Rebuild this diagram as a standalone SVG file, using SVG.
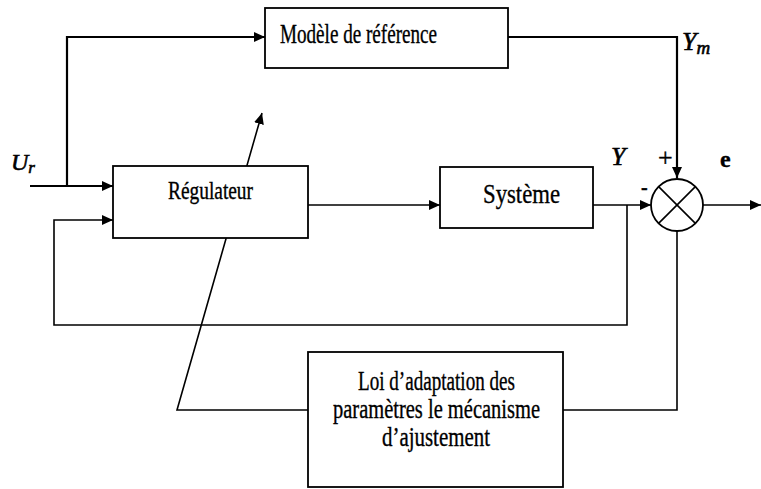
<svg xmlns="http://www.w3.org/2000/svg" width="761" height="489" viewBox="0 0 761 489">
<style>
.ln{fill:none;stroke:#000;stroke-width:1.6}
.th{fill:none;stroke:#000;stroke-width:2.2}
.box{fill:#fff;stroke:#000;stroke-width:1.8}
.t{font-family:"Liberation Serif",serif;fill:#000;stroke:#000;stroke-width:0.35}
.it{font-family:"Liberation Serif",serif;font-style:italic;fill:#000;stroke:#000;stroke-width:0.6}
</style>
<defs>
<marker id="ah" markerUnits="userSpaceOnUse" markerWidth="12" markerHeight="10" refX="11" refY="5" orient="auto">
<path d="M0,0 L11,5 L0,10 z" fill="#000"/>
</marker>
</defs>
<rect width="761" height="489" fill="#fff"/>
<g id="connectors">
<polyline class="th" points="67,186 67,37 265,37" marker-end="url(#ah)"/>
<line class="th" x1="30" y1="186" x2="113" y2="186" marker-end="url(#ah)"/>
<polyline class="ln" points="627,205 627,325 54,325 54,220 113,220" marker-end="url(#ah)"/>
<line class="ln" x1="308" y1="205" x2="440" y2="205" marker-end="url(#ah)"/>
<line class="ln" x1="593" y1="205" x2="651" y2="205" marker-end="url(#ah)"/>
<polyline class="th" points="508,37 677,37 677,178" marker-end="url(#ah)"/>
<line class="ln" x1="703" y1="205" x2="761" y2="205" marker-end="url(#ah)"/>
<polyline class="ln" points="677,231 677,410 563,410"/>
<polyline class="ln" points="308,410 177,410 262,113" marker-end="url(#ah)"/>
</g>
<g id="modele">
<rect class="box" x="265" y="8" width="243" height="60"/>
<text class="t" font-size="27" x="280" y="43" textLength="157" lengthAdjust="spacingAndGlyphs">Modèle de référence</text>
</g>
<g id="regulateur">
<rect class="box" x="113" y="166" width="195" height="72"/>
<text class="t" font-size="25" x="168" y="199" textLength="85" lengthAdjust="spacingAndGlyphs">Régulateur</text>
</g>
<g id="systeme">
<rect class="box" x="440" y="167" width="153" height="61"/>
<text class="t" font-size="27" x="483" y="203" textLength="77" lengthAdjust="spacingAndGlyphs">Système</text>
</g>
<g id="comparateur">
<circle cx="677" cy="205" r="26" fill="#fff" stroke="#000" stroke-width="1.8"/>
<line class="ln" x1="658.6" y1="186.6" x2="695.4" y2="223.4"/>
<line class="ln" x1="695.4" y1="186.6" x2="658.6" y2="223.4"/>
</g>
<g id="loi">
<rect class="box" x="308" y="352" width="255" height="135"/>
<text class="t" font-size="27" x="358" y="390" textLength="157" lengthAdjust="spacingAndGlyphs">Loi d’adaptation des</text>
<text class="t" font-size="27" x="333" y="418" textLength="207" lengthAdjust="spacingAndGlyphs">paramètres le mécanisme</text>
<text class="t" font-size="27" x="382" y="446" textLength="108" lengthAdjust="spacingAndGlyphs">d’ajustement</text>
</g>
<g id="labels">
<text class="it" font-size="24" x="11" y="170">U<tspan font-size="17" dy="3">r</tspan></text>
<text class="it" font-size="26" x="682" y="50">Y<tspan font-size="19" dy="4">m</tspan></text>
<text class="it" font-size="26" x="611" y="165">Y</text>
<text class="t" font-size="26" x="658" y="166" stroke-width="0">+</text>
<text class="t" font-size="24" font-weight="bold" x="720" y="167">e</text>
<text class="t" font-size="20" font-weight="bold" x="641" y="194">-</text>
</g>
</svg>
